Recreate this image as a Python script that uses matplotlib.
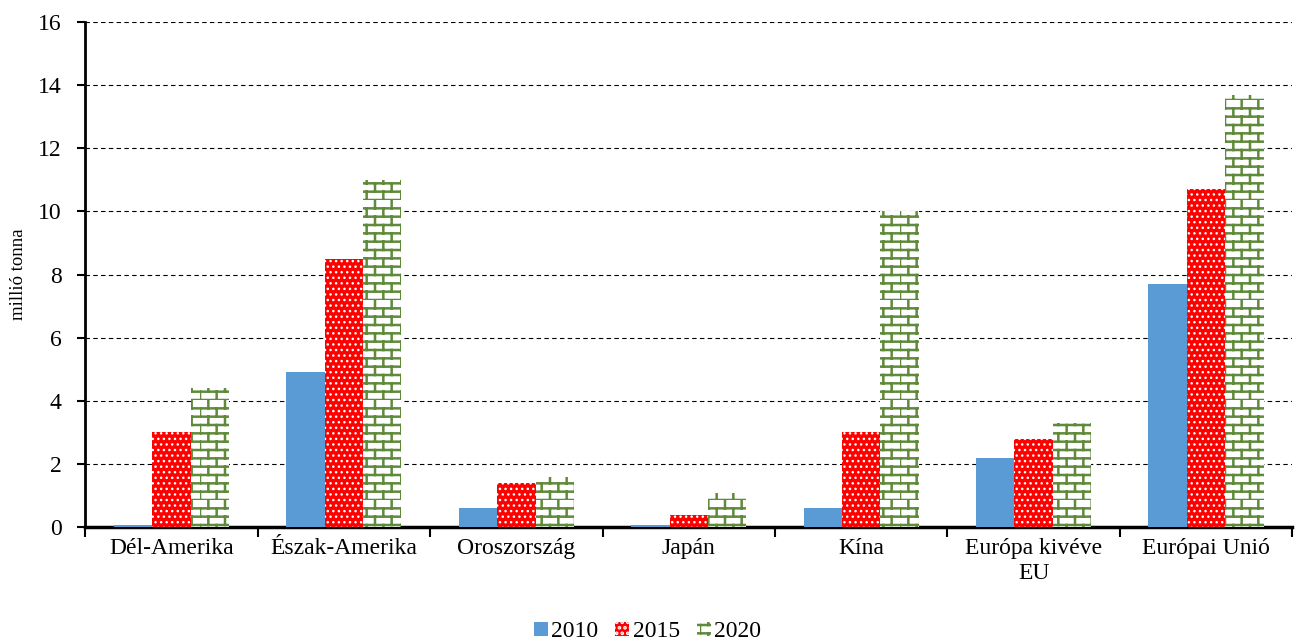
import warnings
import numpy as np
import matplotlib
matplotlib.use("Agg")
import matplotlib.pyplot as plt
import matplotlib.hatch as mhatch
from matplotlib.path import Path
from matplotlib.patches import Patch

warnings.filterwarnings("ignore")

# ===================== 数据 =====================
categories = ["Dél-Amerika", "Észak-Amerika", "Oroszország", "Japán", "Kína",
              "Európa kivéve\nEU", "Európai Unió"]
years = ["2010", "2015", "2020"]
v2010 = [0.07, 4.9, 0.6, 0.07, 0.6, 2.2, 7.7]
v2015 = [3.0, 8.5, 1.4, 0.4, 3.0, 2.8, 10.7]
v2020 = [4.4, 11.0, 1.6, 1.1, 10.0, 3.3, 13.7]


# ===================== 砖墙填充图案 =====================
class BrickHatch(mhatch.HatchPatternBase):
    def __init__(self, hatch, density):
        n = hatch.count('b')
        self.cols = int(n * density)
        self.rows = int(n * density * 2)
        self.num_vertices = (self.rows * 2 + self.rows * self.cols * 2) if n else 0

    def set_vertices_and_codes(self, vertices, codes):
        h = 1.0 / self.rows
        w = 1.0 / self.cols
        i = 0
        for r in range(self.rows):
            y = r * h
            vertices[i] = (0.0, y); codes[i] = Path.MOVETO; i += 1
            vertices[i] = (1.0, y); codes[i] = Path.LINETO; i += 1
            off = 0.5 * w if r % 2 else 0.0
            for c in range(self.cols):
                x = c * w + off
                vertices[i] = (x, y); codes[i] = Path.MOVETO; i += 1
                vertices[i] = (x, y + h); codes[i] = Path.LINETO; i += 1


mhatch._hatch_types.append(BrickHatch)

plt.rcParams['font.family'] = ['Liberation Serif', 'DejaVu Serif']

fig = plt.figure(figsize=(12.95, 6.43), dpi=100)
ax = fig.add_axes([0.0657, 0.18, 0.9323, 0.786])

x = np.arange(len(categories))
w = 0.223
ax.bar(x - w, v2010, w, color="#5b9bd5", linewidth=0, zorder=3)
plt.rcParams['hatch.linewidth'] = 1.0
ax.bar(x, v2015, w, color="#ff0000", edgecolor="white", hatch="...", linewidth=0, zorder=3)
h15 = Patch(facecolor="#ff0000", edgecolor="white", hatch="...", linewidth=0, label="2015")
plt.rcParams['hatch.linewidth'] = 1.8
ax.bar(x + w, v2020, w, color="white", edgecolor="#5f8a3a", hatch="b", linewidth=0, zorder=3)
h20 = Patch(facecolor="white", edgecolor="#5f8a3a", hatch="b", linewidth=0, label="2020")
h10 = Patch(facecolor="#5b9bd5", linewidth=0, label="2010")

ax.set_xlim(-0.5, len(categories) - 0.5)
ax.set_ylim(0, 16)
ax.set_yticks(range(0, 17, 2))
ax.yaxis.grid(True, linestyle=(0, (4, 3)), color="black", linewidth=0.8, zorder=0)

ax.set_xticks(x)
ax.set_xticklabels(categories, fontsize=17, linespacing=1.25)
ax.set_xticks(np.arange(-0.5, len(categories), 1), minor=True)
ax.tick_params(axis='x', which='major', length=0, pad=8)
ax.tick_params(axis='x', which='minor', length=7, width=1.5, direction='out')
ax.tick_params(axis='y', labelsize=17, length=6, width=1.5, direction='out', pad=11)

for s in ["top", "right"]:
    ax.spines[s].set_visible(False)
ax.spines["left"].set_linewidth(2)
ax.spines["bottom"].set_linewidth(2.5)

ax.set_ylabel("millió tonna", fontsize=13.5, labelpad=8)

fig.legend(handles=[h10, h15, h20], loc="lower center", bbox_to_anchor=(0.5, -0.032), ncol=3,
           frameon=False, fontsize=17, handlelength=0.6, handleheight=0.6,
           handletextpad=0.15, columnspacing=0.7)

plt.savefig("out.png", dpi=100)
